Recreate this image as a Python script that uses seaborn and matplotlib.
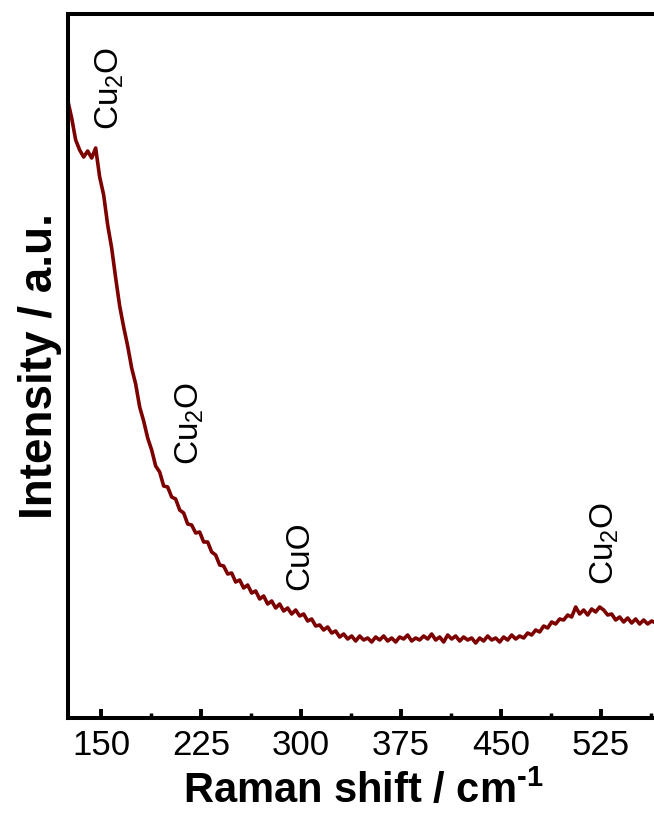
import matplotlib
matplotlib.use("Agg")
import matplotlib.pyplot as plt
import seaborn as sns
import pandas as pd
from matplotlib.ticker import FixedLocator

# Raman shift (cm^-1) and intensity (a.u.)
raman_shift = [
    125, 128, 131, 134, 137, 140, 143, 146, 149, 152, 155, 158, 161, 164, 167, 170,
    173, 176, 179, 182, 185, 188, 191, 194, 197, 200, 203, 206, 209, 212, 215, 218,
    221, 224, 227, 230, 233, 236, 239, 242, 245, 248, 251, 254, 257, 260, 263, 266,
    269, 272, 275, 278, 281, 284, 287, 290, 293, 296, 299, 302, 305, 308, 311, 314,
    317, 320, 323, 326, 329, 332, 335, 338, 341, 344, 347, 350, 353, 356, 359, 362,
    365, 368, 371, 374, 377, 380, 383, 386, 389, 392, 395, 398, 401, 404, 407, 410,
    413, 416, 419, 422, 425, 428, 431, 434, 437, 440, 443, 446, 449, 452, 455, 458,
    461, 464, 467, 470, 473, 476, 479, 482, 485, 488, 491, 494, 497, 500, 503, 506,
    509, 512, 515, 518, 521, 524, 527, 530, 533, 536, 539, 542, 545, 548, 551, 554,
    557, 560, 563, 566, 569,
]
intensity = [
    618, 600, 578, 568, 561, 567, 560, 570, 541, 523, 493, 470, 440, 412, 391, 372,
    350, 334, 311, 297, 280, 268, 252, 246, 232, 231, 221, 219, 208, 205, 194, 193,
    185, 186, 176, 176, 166, 163, 153, 152, 144, 145, 136, 138, 130, 133, 125, 127,
    119, 122, 114, 117, 110, 114, 107, 110, 104, 108, 102, 104, 97, 99, 92, 93,
    88, 91, 85, 87, 81, 84, 79, 82, 77, 82, 78, 80, 76, 81, 78, 82,
    77, 80, 76, 81, 79, 83, 77, 80, 78, 82, 79, 84, 78, 81, 76, 83,
    79, 82, 77, 81, 78, 80, 75, 80, 77, 82, 78, 80, 76, 81, 78, 83,
    79, 82, 80, 85, 83, 88, 86, 92, 90, 96, 94, 99, 98, 103, 101, 111,
    104, 108, 103, 109, 106, 111, 108, 103, 104, 98, 101, 96, 100, 95, 99, 94,
    98, 94, 97, 95, 97,
]

# Peak annotations
peak_labels = ["Cu$_2$O", "Cu$_2$O", "CuO", "Cu$_2$O"]
peak_pos = [156.75, 216.75, 299.25, 528.0]
peak_text_base = [588, 253, 128, 133]

xticks = [150, 225, 300, 375, 450, 525]
minor_xticks = [187.5, 262.5, 337.5, 412.5, 487.5, 562.5]

sns.set_style("ticks")
plt.rcParams["font.family"] = ["Liberation Sans", "DejaVu Sans"]
plt.rcParams["mathtext.fontset"] = "custom"
plt.rcParams["mathtext.rm"] = "Liberation Sans"
plt.rcParams["mathtext.it"] = "Liberation Sans:italic"
plt.rcParams["mathtext.bf"] = "Liberation Sans:bold"
plt.rcParams["text.color"] = "black"
plt.rcParams["axes.labelcolor"] = "black"
plt.rcParams["xtick.color"] = "black"

fig = plt.figure(figsize=(6.54, 8.14), dpi=100)
ax = fig.add_axes([68 / 654, 1 - 718 / 814, (658 - 68) / 654, (718 - 14) / 814])

df = pd.DataFrame({"shift": raman_shift, "intensity": intensity})
sns.lineplot(data=df, x="shift", y="intensity", ax=ax, color="#7d0000",
             linewidth=2.6, sort=False, legend=False)

ax.set_xlim(125.25, 567.75)
ax.set_ylim(0, 704)
ax.xaxis.set_major_locator(FixedLocator(xticks))
ax.xaxis.set_minor_locator(FixedLocator(minor_xticks))
ax.set_yticks([])
ax.tick_params(axis="x", which="major", direction="in", length=6.5, width=2.8,
               labelsize=25, pad=8, bottom=True, top=False, color="black",
               labelcolor="black")
ax.tick_params(axis="x", which="minor", direction="in", length=3.5, width=2.5,
               top=False, bottom=True, color="black")
ax.tick_params(axis="y", which="both", left=False, right=False)
for s in ax.spines.values():
    s.set_linewidth(2.9)
    s.set_color("black")
    s.set_visible(True)

ax.set_xlabel("Raman shift / cm$^{\\mathbf{\u2010 1}}$", fontsize=30, fontweight="bold",
              labelpad=6, color="black")
ax.set_ylabel("Intensity / a.u.", fontsize=33, fontweight="bold", labelpad=4,
              color="black")

for lab, xp, yp in zip(peak_labels, peak_pos, peak_text_base):
    ax.text(xp, yp, lab, rotation=90, ha="center", va="bottom", fontsize=24, color="black")

fig.savefig("out.png", dpi=100)
